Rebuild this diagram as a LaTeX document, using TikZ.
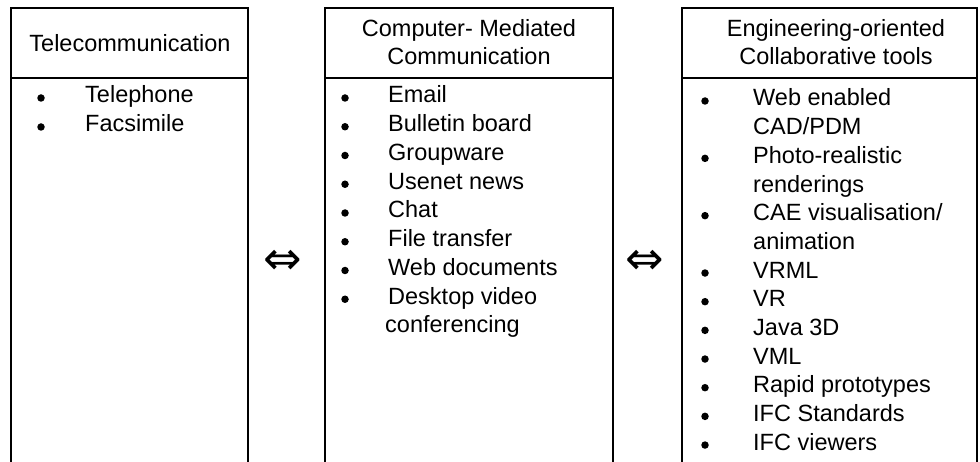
\documentclass[tikz,border=0pt]{standalone}
\usepackage{fontspec}
\setmainfont{Liberation Sans}
\newfontfamily\arrowfont{DejaVu Sans}
\begin{document}
\begin{tikzpicture}[x=1pt,y=-1pt,
    frame/.style={line width=2.7pt},
    head/.style={anchor=base,inner sep=0pt,font=\fontsize{23.5}{28.7}\selectfont},
    entry/.style={anchor=base west,inner sep=0pt,font=\fontsize{23.5}{28.7}\selectfont},
    dot/.style={circle,fill,inner sep=0pt,minimum size=7.5pt},
    link/.style={inner sep=0pt,font=\arrowfont\fontsize{46}{46}\selectfont}]
  \useasboundingbox (0,0) rectangle (980,462);

  % the three columns, open at the bottom
  \draw[frame] (11,462) -- (11,8) -- (248,8) -- (248,462);
  \draw[frame] (11,78) -- (248,78);
  \draw[frame] (325,462) -- (325,8) -- (613,8) -- (613,462);
  \draw[frame] (325,78) -- (613,78);
  \draw[frame] (682,462) -- (682,8) -- (977,8) -- (977,462);
  \draw[frame] (682,78) -- (977,78);

  % headings
  \node[head] (tele) at (130,52) {Telecommunication};
  \node[head] (cmc1) at (469,37) {Computer- Mediated};
  \node[head] (cmc2) at (469,65) {Communication};
  \node[head] (eng1) at (836,37) {Engineering-oriented};
  \node[head] (eng2) at (836,65) {Collaborative tools};

  % left list
  \foreach \t [count=\i from 0] in {Telephone, Facsimile}{
    \node[dot] (teleb\i) at (41,98+\i*29) {};
    \node[entry] (tele\i) at (85,103+\i*29) {\t};
  }

  % middle list
  \foreach \t [count=\i from 0] in {Email, Bulletin board, Groupware,
      Usenet news, Chat, File transfer, Web documents, Desktop video}{
    \node[dot] (cmcb\i) at (345,98+\i*28.75) {};
    \node[entry] (cmc\i) at (388,103+\i*28.75) {\t};
  }
  \node[entry] (cmc8) at (385,103+8*28.75) {conferencing};

  % right list
  \foreach \t [count=\i from 0] in {Web enabled, CAD/PDM, Photo-realistic,
      renderings, CAE visualisation/, animation, VRML, VR, Java 3D, VML,
      Rapid prototypes, IFC Standards, IFC viewers}{
    \node[entry] (eng\i) at (753,106+\i*28.67) {\t};
  }
  \foreach \i in {0,2,4,6,7,8,9,10,11,12}{
    \node[dot] (engb\i) at (705,101+\i*28.67) {};
  }

  % links between the columns
  \node[link] (ab) at (283,262) {⇔};
  \node[link] (bc) at (645,262) {⇔};
\end{tikzpicture}
\end{document}
